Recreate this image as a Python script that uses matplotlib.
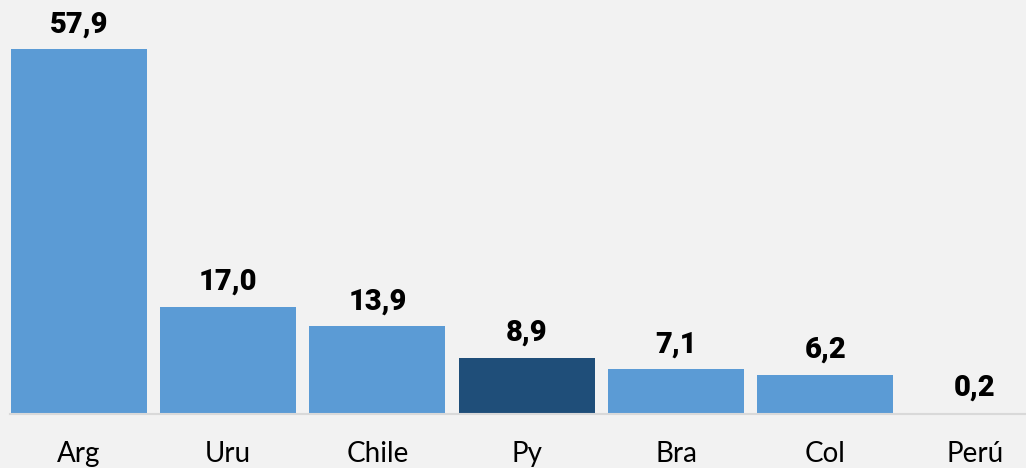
import matplotlib
matplotlib.use("Agg")
from matplotlib import pyplot as plt

categories = ["Arg", "Uru", "Chile", "Py", "Bra", "Col", "Perú"]
values = [57.9, 17.0, 13.9, 8.9, 7.1, 6.2, 0.2]
value_labels = ["57,9", "17,0", "13,9", "8,9", "7,1", "6,2", "0,2"]
highlight = "Py"

BG = "#f2f2f2"
LIGHT = "#5b9bd5"
DARK = "#1f4e79"


def main():
    fig = plt.figure(figsize=(10.26, 4.68), dpi=100, facecolor=BG)
    ax = fig.add_axes([10 / 1026, 54 / 468, 1016 / 1026, 414 / 468], facecolor=BG)

    colors = [DARK if c == highlight else LIGHT for c in categories]
    x = range(len(categories))
    ax.bar(x, values, width=0.91, color=colors, zorder=2)

    for xi, v, lab in zip(x, values, value_labels):
        ax.annotate(lab, (xi, v), xytext=(0, 12.2), textcoords="offset points",
                    ha="center", va="baseline", fontsize=21, fontweight="heavy",
                    family=["Roboto", "DejaVu Sans"], color="black")

    ax.set_xlim(-0.46, 6.343)
    ax.set_ylim(0, 65.7)
    ax.set_xticks(list(x))
    ax.set_xticklabels(categories, fontsize=20, family=["Lato", "DejaVu Sans"], va="baseline")
    ax.tick_params(axis="x", length=0, pad=34.5)
    ax.set_yticks([])
    for side in ["top", "right", "left"]:
        ax.spines[side].set_visible(False)
    ax.spines["bottom"].set_color("#d9d9d9")
    ax.spines["bottom"].set_linewidth(1.5)
    ax.spines["bottom"].set_zorder(3)

    fig.savefig("out.png", dpi=100, facecolor=BG)
    plt.close(fig)


if __name__ == "__main__":
    main()
